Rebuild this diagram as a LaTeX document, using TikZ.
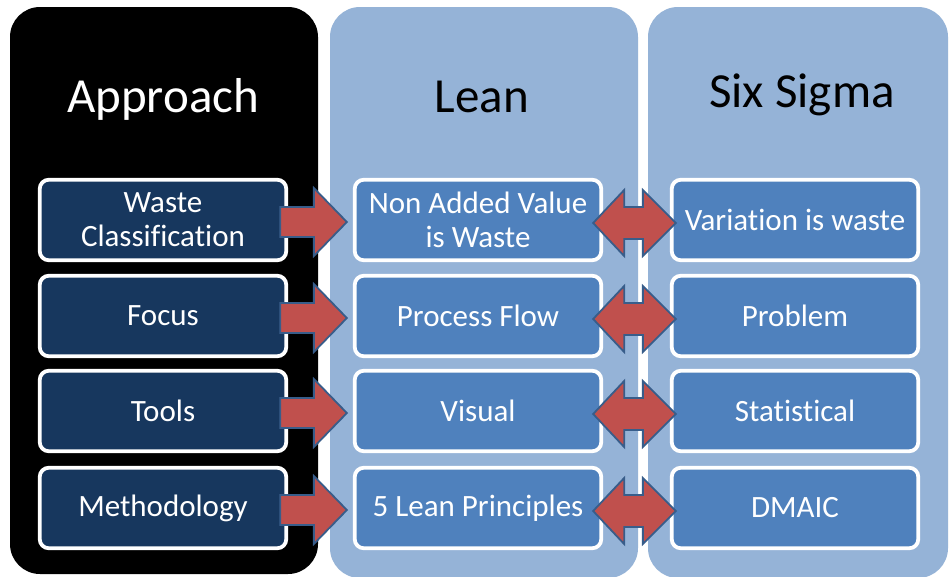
\documentclass[tikz,border=0pt]{standalone}
\usepackage{fontspec}
\setmainfont{Carlito}[Ligatures=CommonOff]
\usetikzlibrary{calc}
\definecolor{navy}{HTML}{17375E}
\definecolor{midblue}{HTML}{4F81BD}
\definecolor{lightcol}{HTML}{95B3D7}
\definecolor{arrred}{HTML}{C0504D}
\definecolor{arrblue}{HTML}{385D8A}
\begin{document}
\begin{tikzpicture}[x=1pt,y=-1pt,
  col/.style={rounded corners=30pt, draw=none},
  box/.style={draw=white, line width=3.8pt, rounded corners=9pt, minimum width=246.5pt, minimum height=80.5pt, text=white, font=\fontsize{31}{34}\selectfont, align=center, inner sep=0pt},
  lbox/.style={box, fill=navy},
  bbox/.style={box, fill=midblue},
  arr/.style={fill=arrred, draw=arrblue, line width=1.8pt, line join=miter},
  head/.style={font=\fontsize{49}{56}\selectfont, anchor=base}
]
\path[use as bounding box] (0,0) rectangle (950,576);
\fill[white] (0,0) rectangle (950,576);
\begin{scope}
\clip (0,0) rectangle (950,576);
\fill[col, black] (10,7) rectangle (318,574);
\fill[col, lightcol] (330,7) rectangle (638,578);
\fill[col, lightcol] (648,7) rectangle (948,578);
\end{scope}

\node[head, text=white] (h1) at (163,112) {Approach};
\node[head, text=black] (h2) at (482,112) {Lean};
\node[head, text=black] (h3) at (802,107) {Six Sigma};

\node[lbox] (a1) at (163,220) {Waste\\Classification};
\node[lbox] (a2) at (163,316) {Focus};
\node[lbox] (a3) at (163,411) {Tools};
\node[lbox] (a4) at (163,508) {Methodology};

\node[bbox] (b1) at (478,220) {Non Added Value\\is Waste};
\node[bbox] (b2) at (478,316) {Process Flow};
\node[bbox] (b3) at (478,411) {Visual};
\node[bbox] (b4) at (478,508) {5 Lean Principles};

\node[bbox] (c1) at (795,220) {Variation is waste};
\node[bbox] (c2) at (795,316) {Problem};
\node[bbox] (c3) at (795,411) {Statistical};
\node[bbox] (c4) at (795,508) {DMAIC};

\foreach \i in {1,...,4} {
  \draw[arr] ($(a\i.east)+(-8,-13)$) -- ($(b\i.west)+(-39,-13)$) -- ($(b\i.west)+(-39,-32)$)
    -- ($(b\i.west)+(-6,2)$) -- ($(b\i.west)+(-39,36)$) -- ($(b\i.west)+(-39,17)$)
    -- ($(a\i.east)+(-8,17)$) -- cycle;
  \draw[arr] ($(b\i.east)+(-10,3)$) -- ($(b\i.east)+(21,-30)$) -- ($(b\i.east)+(21,-13)$)
    -- ($(c\i.west)+(-27,-13)$) -- ($(c\i.west)+(-27,-30)$) -- ($(c\i.west)+(6,3)$)
    -- ($(c\i.west)+(-27,36)$) -- ($(c\i.west)+(-27,19)$) -- ($(b\i.east)+(21,19)$)
    -- ($(b\i.east)+(21,36)$) -- cycle;
}
\end{tikzpicture}
\end{document}
